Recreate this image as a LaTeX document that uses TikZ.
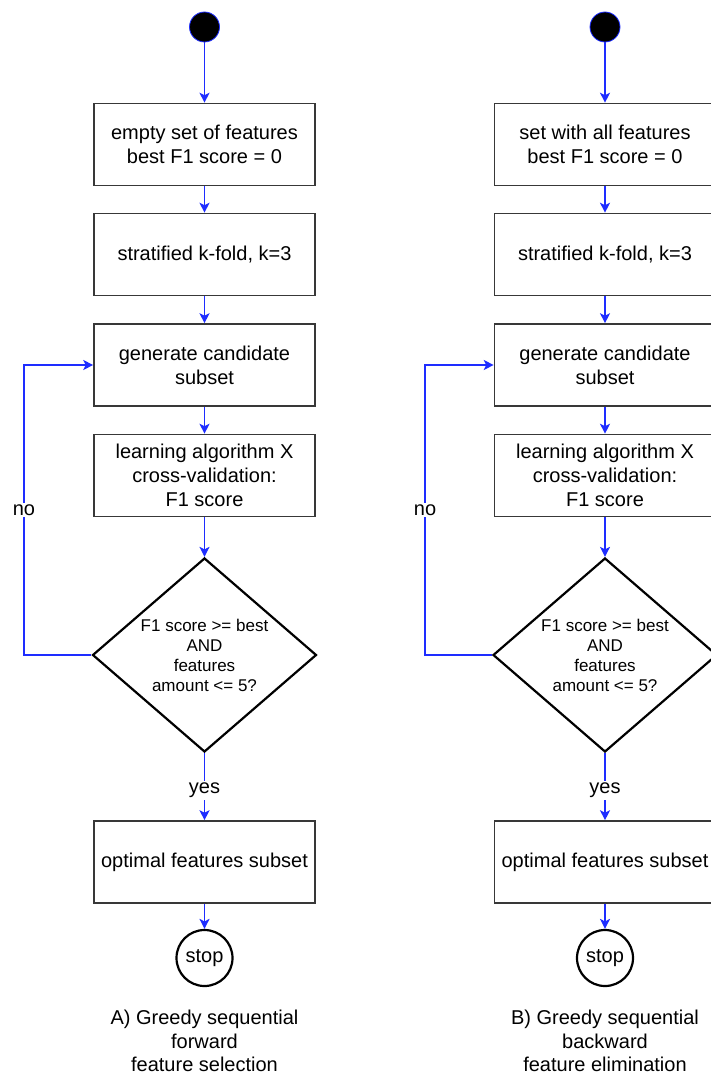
\documentclass[tikz,border=0pt]{standalone}
\usepackage{fontspec}
\setmainfont{Liberation Sans}
\usetikzlibrary{shapes.geometric,arrows.meta}
\definecolor{flowblue}{RGB}{30,45,255}
\begin{document}
\begin{tikzpicture}[x=1pt,y=-1pt,
  txt/.style={font=\fontsize{20}{24}\selectfont},
  stepbox/.style={txt, draw=black!78, line width=1.6pt, fill=white,
    minimum width=221pt, minimum height=82pt, inner sep=0pt, align=center},
  decision/.style={diamond, draw=black, line width=2.2pt, fill=white,
    aspect=1.155, minimum width=224pt, minimum height=194pt, inner sep=0pt,
    align=center, font=\fontsize{17}{20}\selectfont},
  startdot/.style={circle, fill=black, draw=flowblue, line width=0.8pt,
    minimum size=30pt, inner sep=0pt},
  stopdot/.style={txt, circle, draw=black, line width=2.2pt, fill=white,
    minimum size=56pt, inner sep=0pt},
  flow/.style={draw=flowblue, line width=1.6pt,
    -{Stealth[length=10pt, width=10pt, inset=2.5pt]}},
  lab/.style={txt, fill=white, inner sep=2pt},
  caption/.style={font=\fontsize{20}{23.5}\selectfont, align=center}]

\useasboundingbox (0,0) rectangle (710,1078);

% ---- A) forward selection ----
\node[startdot] (sA) at (204.5,27) {};
\node[stepbox] (a1) at (204.5,144.5) {empty set of features\\best F1 score = 0};
\node[stepbox] (a2) at (204.5,254.5) {stratified k-fold, k=3};
\node[stepbox] (a3) at (204.5,365) {generate candidate\\subset};
\node[stepbox] (a4) at (204.5,475.5) {learning algorithm X\\cross-validation:\\F1 score};
\node[decision] (aD) at (204.5,655) {F1 score >= best\\AND\\features\\amount <= 5?};
\node[stepbox] (a5) at (204.5,862) {optimal features subset};
\node[stopdot] (aE) at (204.5,958) {stop};
\node[caption] (aC) at (204.5,1041) {A) Greedy sequential\\forward\\feature selection};

\coordinate (aL1) at (24,655);
\coordinate (aL2) at (24,365);

\draw[flow] (sA) -- (a1);
\draw[flow] (a1) -- (a2);
\draw[flow] (a2) -- (a3);
\draw[flow] (a3) -- (a4);
\draw[flow] (a4) -- (aD);
\draw[flow] (aD.south) -- node[lab, yshift=-4pt] {yes} (a5.north);
\draw[flow] (a5) -- (aE);
\draw[flow] (aD.west) -- (aL1) -- node[lab] {no} (aL2) -- (a3.west);

% ---- B) backward elimination ----
\node[startdot] (sB) at (605,27) {};
\node[stepbox] (b1) at (605,144.5) {set with all features\\best F1 score = 0};
\node[stepbox] (b2) at (605,254.5) {stratified k-fold, k=3};
\node[stepbox] (b3) at (605,365) {generate candidate\\subset};
\node[stepbox] (b4) at (605,475.5) {learning algorithm X\\cross-validation:\\F1 score};
\node[decision] (bD) at (605,655) {F1 score >= best\\AND\\features\\amount <= 5?};
\node[stepbox] (b5) at (605,862) {optimal features subset};
\node[stopdot] (bE) at (605,958) {stop};
\node[caption] (bC) at (605,1041) {B) Greedy sequential\\backward\\feature elimination};

\coordinate (bL1) at (425,655);
\coordinate (bL2) at (425,365);

\draw[flow] (sB) -- (b1);
\draw[flow] (b1) -- (b2);
\draw[flow] (b2) -- (b3);
\draw[flow] (b3) -- (b4);
\draw[flow] (b4) -- (bD);
\draw[flow] (bD.south) -- node[lab, yshift=-4pt] {yes} (b5.north);
\draw[flow] (b5) -- (bE);
\draw[flow] (bD.west) -- (bL1) -- node[lab] {no} (bL2) -- (b3.west);

\end{tikzpicture}
\end{document}
